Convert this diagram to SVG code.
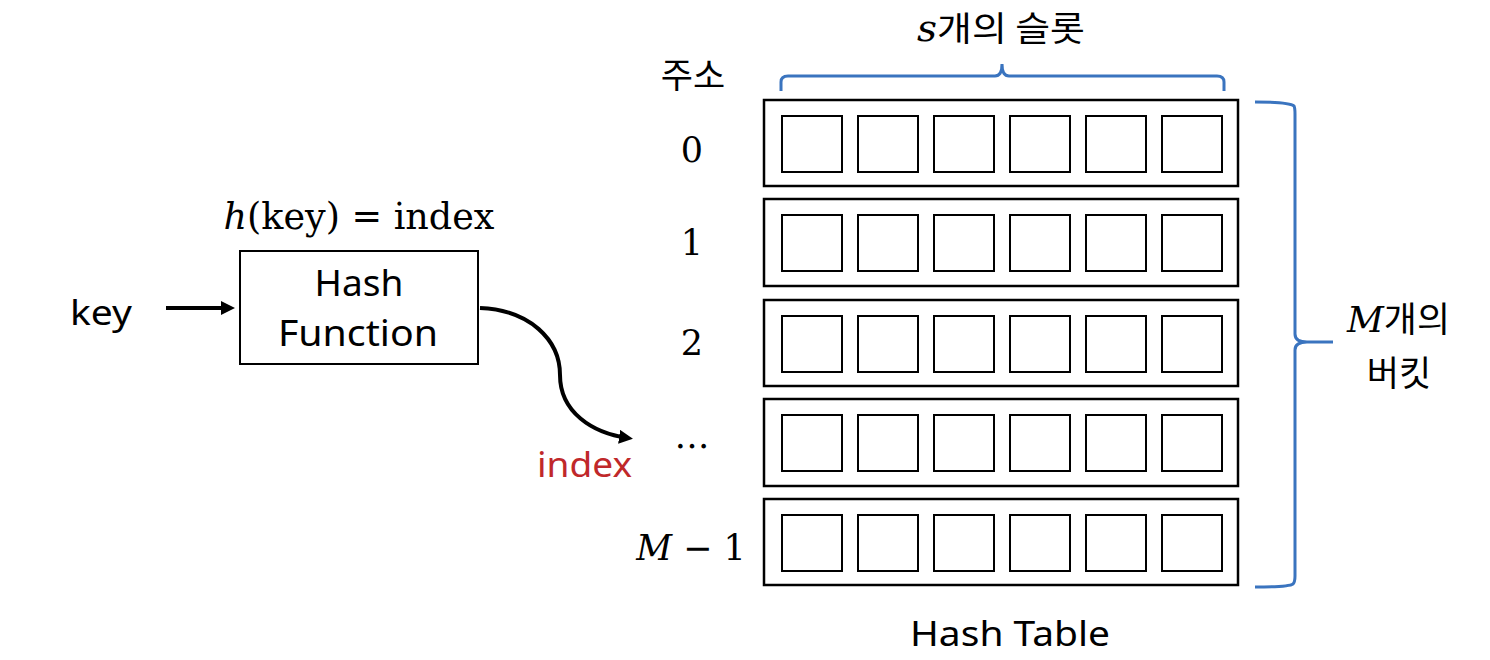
<svg xmlns="http://www.w3.org/2000/svg" width="1490" height="660" viewBox="0 0 1490 660">
<style>
.t{font-family:"Noto Sans","Noto Sans CJK KR",sans-serif;fill:#000}
.m{font-family:"DejaVu Serif","Liberation Serif",serif;fill:#000}
.k{font-family:"Noto Sans CJK KR","Noto Sans",sans-serif;fill:#000}
.row{fill:#fff;stroke:#000;stroke-width:2.5}
.cell{fill:#fff;stroke:#000;stroke-width:2}
.brace{fill:none;stroke:#3A74BF;stroke-width:3}
.conn{fill:none;stroke:#000;stroke-width:4}
</style>
<defs>
<marker id="ah" markerWidth="14" markerHeight="14" refX="9" refY="7" orient="auto" markerUnits="userSpaceOnUse" viewBox="0 0 14 14">
<path d="M0,0 L14,7 L0,14 Z" fill="#000"/>
</marker>
<g id="cells">
<rect class="cell" x="782" y="0" width="60" height="56"/>
<rect class="cell" x="858" y="0" width="60" height="56"/>
<rect class="cell" x="934" y="0" width="60" height="56"/>
<rect class="cell" x="1010" y="0" width="60" height="56"/>
<rect class="cell" x="1086" y="0" width="60" height="56"/>
<rect class="cell" x="1162" y="0" width="60" height="56"/>
</g>
</defs>

<g id="key-label"><text class="t" x="70" y="325" font-size="35" textLength="62" lengthAdjust="spacingAndGlyphs">key</text></g>

<g id="hash-function">
<rect x="240" y="251" width="238" height="113" fill="#fff" stroke="#000" stroke-width="2"/>
<text class="t" x="359" y="296" font-size="37" text-anchor="middle">Hash</text>
<text class="t" x="278" y="346" font-size="37" textLength="160" lengthAdjust="spacingAndGlyphs">Function</text>
</g>

<g id="formula"><text class="m" x="359" y="229" font-size="36.5" text-anchor="middle"><tspan font-style="italic">h</tspan>(key) = index</text></g>

<g id="index-label"><text class="t" x="537" y="477" font-size="34" textLength="95" lengthAdjust="spacingAndGlyphs" style="fill:#C0282A">index</text></g>

<g id="addr-label"><text class="k" x="693" y="88" font-size="35" text-anchor="middle">주소</text></g>

<g id="row0"><text class="m" x="692" y="162" font-size="35" text-anchor="middle">0</text><rect class="row" x="764" y="100" width="474" height="86"/><use href="#cells" y="116"/></g>
<g id="row1"><text class="m" x="692" y="255" font-size="35" text-anchor="middle">1</text><rect class="row" x="764" y="199" width="474" height="87"/><use href="#cells" y="215"/></g>
<g id="row2"><text class="m" x="692" y="355" font-size="35" text-anchor="middle">2</text><rect class="row" x="764" y="300" width="474" height="86"/><use href="#cells" y="316"/></g>
<g id="row3"><text class="m" x="692" y="448" font-size="35" text-anchor="middle">…</text><rect class="row" x="764" y="399" width="474" height="87"/><use href="#cells" y="415"/></g>
<g id="row4"><text class="m" x="691" y="560" font-size="35" text-anchor="middle"><tspan font-style="italic">M</tspan> − 1</text><rect class="row" x="764" y="499" width="474" height="86"/><use href="#cells" y="515"/></g>

<g id="slots-label"><text class="k" x="917" y="41" font-size="34" textLength="168" lengthAdjust="spacingAndGlyphs"><tspan class="m" font-style="italic" font-size="35">s</tspan>개의 슬롯</text></g>

<g id="buckets-label">
<text class="k" x="1347" y="332" font-size="35" textLength="103" lengthAdjust="spacingAndGlyphs"><tspan class="m" font-style="italic" font-size="35">M</tspan>개의</text>
<text class="k" x="1399" y="386" font-size="35" text-anchor="middle">버킷</text>
</g>

<g id="table-label"><text class="t" x="910" y="646" font-size="34" textLength="200" lengthAdjust="spacingAndGlyphs">Hash Table</text></g>

<g id="braces">
<path class="brace" d="M781,91 L781,82 Q781,76 788,76 L995,76 Q1002,76 1002,64 Q1002,76 1009,76 L1217,76 Q1224,76 1224,82 L1224,91"/>
<path class="brace" d="M1255,102 Q1289,102 1294,106 Q1295,108 1295,114 L1295,334 Q1295,342 1307,342 L1333,342 M1307,342 Q1295,342 1295,350 L1295,576 Q1295,582 1293,584 Q1289,587 1255,587"/>
</g>

<g id="connectors">
<path class="conn" d="M166,308 L230,308" marker-end="url(#ah)"/>
<path class="conn" d="M480,308 C530,310 560,340 560,375 C560,412 592,433 628,438" marker-end="url(#ah)"/>
</g>
</svg>
